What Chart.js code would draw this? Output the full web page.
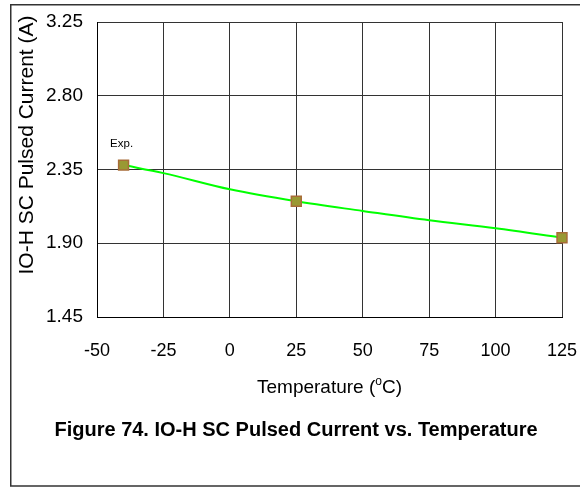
<!DOCTYPE html>
<html lang="en">
<head>
<meta charset="UTF-8">
<title>IO-H SC Pulsed Current vs. Temperature</title>
<script src="https://cdn.jsdelivr.net/npm/chart.js"></script>
<style>
  body { margin: 0; background: #fff; }
  canvas { display: block; }
</style>
</head>
<body>
<canvas id="myChart" width="580" height="487"></canvas>
<script>
// measured points (squares)
const tempsMeasured = [-40, 25, 125];
const currentMeasured = [2.377, 2.156, 1.934];

// smooth green curve
const tempsCurve = [-40, -25, 0, 25, 50, 75, 100, 125];
const currentCurve = [2.377, 2.328, 2.229, 2.156, 2.097, 2.040, 1.991, 1.934];

// tick labels
const xTicks = [-50, -25, 0, 25, 50, 75, 100, 125];
const yTicks = [1.45, 1.90, 2.35, 2.80, 3.25];

const FONT = "'Liberation Sans', Arial, sans-serif";

// titles, caption, frame and the "Exp." tag
const decorations = {
  id: 'decorations',
  beforeDraw(chart) {
    const ctx = chart.ctx;
    ctx.save();
    ctx.fillStyle = '#fff';
    ctx.fillRect(0, 0, chart.width, chart.height);
    ctx.restore();
  },
  afterDraw(chart) {
    const ctx = chart.ctx;
    const area = chart.chartArea;
    const xs = chart.scales.x, ys = chart.scales.y;
    ctx.save();

    // outer box (right side runs off the picture)
    ctx.strokeStyle = '#333';
    ctx.lineWidth = 1.5;
    ctx.beginPath();
    ctx.moveTo(chart.width, 4.75);
    ctx.lineTo(10.75, 4.75);
    ctx.lineTo(10.75, 486);
    ctx.lineTo(chart.width, 486);
    ctx.stroke();

    // y title
    ctx.fillStyle = '#000';
    ctx.font = '21px ' + FONT;
    ctx.textAlign = 'center';
    ctx.textBaseline = 'middle';
    ctx.save();
    ctx.translate(27, 145);
    ctx.rotate(-Math.PI / 2);
    ctx.fillText('IO-H SC Pulsed Current (A)', 0, 0);
    ctx.restore();

    // x title with superscript o
    const cx = (area.left + area.right) / 2;
    const ty = 388;
    const big = '19px ' + FONT, small = '12px ' + FONT;
    const parts = ['Temperature (', 'o', 'C)'];
    ctx.font = big; const w0 = ctx.measureText(parts[0]).width;
    ctx.font = small; const w1 = ctx.measureText(parts[1]).width;
    ctx.font = big; const w2 = ctx.measureText(parts[2]).width;
    let x = cx - (w0 + w1 + w2) / 2;
    ctx.textAlign = 'left';
    ctx.font = big; ctx.fillText(parts[0], x, ty); x += w0;
    ctx.font = small; ctx.fillText(parts[1], x, ty - 6); x += w1;
    ctx.font = big; ctx.fillText(parts[2], x, ty);

    // caption
    ctx.font = 'bold 20px ' + FONT;
    ctx.textAlign = 'center';
    ctx.fillText('Figure 74. IO-H SC Pulsed Current vs. Temperature', 296, 430);

    // "Exp." tag above the first measured point
    ctx.font = '11.5px ' + FONT;
    ctx.fillText('Exp.', xs.getPixelForValue(tempsMeasured[0]) - 2, ys.getPixelForValue(currentMeasured[0]) - 21);

    ctx.restore();
  }
};

const ctx = document.getElementById('myChart').getContext('2d');

new Chart(ctx, {
  type: 'scatter',
  data: {
    datasets: [
      {
        label: 'Exp.',
        data: tempsMeasured.map((t, i) => ({ x: t, y: currentMeasured[i] })),
        showLine: false,
        pointStyle: 'rect',
        pointRadius: 7,
        pointHoverRadius: 7,
        backgroundColor: '#999933',
        borderColor: '#a86c38',
        borderWidth: 1.5,
        clip: false,
        order: 0
      },
      {
        label: 'curve',
        data: tempsCurve.map((t, i) => ({ x: t, y: currentCurve[i] })),
        showLine: true,
        borderColor: '#00ff00',
        borderWidth: 2,
        pointRadius: 0,
        cubicInterpolationMode: 'monotone',
        clip: false,
        order: 1
      }
    ]
  },
  options: {
    responsive: false,
    animation: false,
    devicePixelRatio: 1,
    layout: { padding: { left: 0, right: 18, top: 22, bottom: 0 } },
    plugins: {
      legend: { display: false },
      tooltip: { enabled: false }
    },
    scales: {
      x: {
        type: 'linear',
        min: -50,
        max: 125,
        afterBuildTicks: (scale) => { scale.ticks = xTicks.map(v => ({ value: v })); },
        afterFit: (scale) => {
          scale.height = 170;
          scale.paddingLeft = 0;
          scale.paddingRight = 0;
        },
        grid: { color: '#333', lineWidth: 1, drawTicks: false },
        border: { color: '#000', width: 1 },
        ticks: {
          color: '#000',
          font: { family: FONT, size: 18 },
          padding: 23,
          maxRotation: 0,
          autoSkip: false
        }
      },
      y: {
        min: 1.45,
        max: 3.25,
        afterBuildTicks: (scale) => { scale.ticks = yTicks.map(v => ({ value: v })); },
        afterFit: (scale) => {
          scale.width = 97;
          scale.paddingTop = 0;
          scale.paddingBottom = 0;
        },
        grid: { color: '#333', lineWidth: 1, drawTicks: false },
        border: { color: '#000', width: 1 },
        ticks: {
          color: '#000',
          font: { family: FONT, size: 19 },
          padding: 14,
          autoSkip: false,
          callback: (v) => Number(v).toFixed(2)
        }
      }
    }
  },
  plugins: [decorations]
});
</script>
</body>
</html>
